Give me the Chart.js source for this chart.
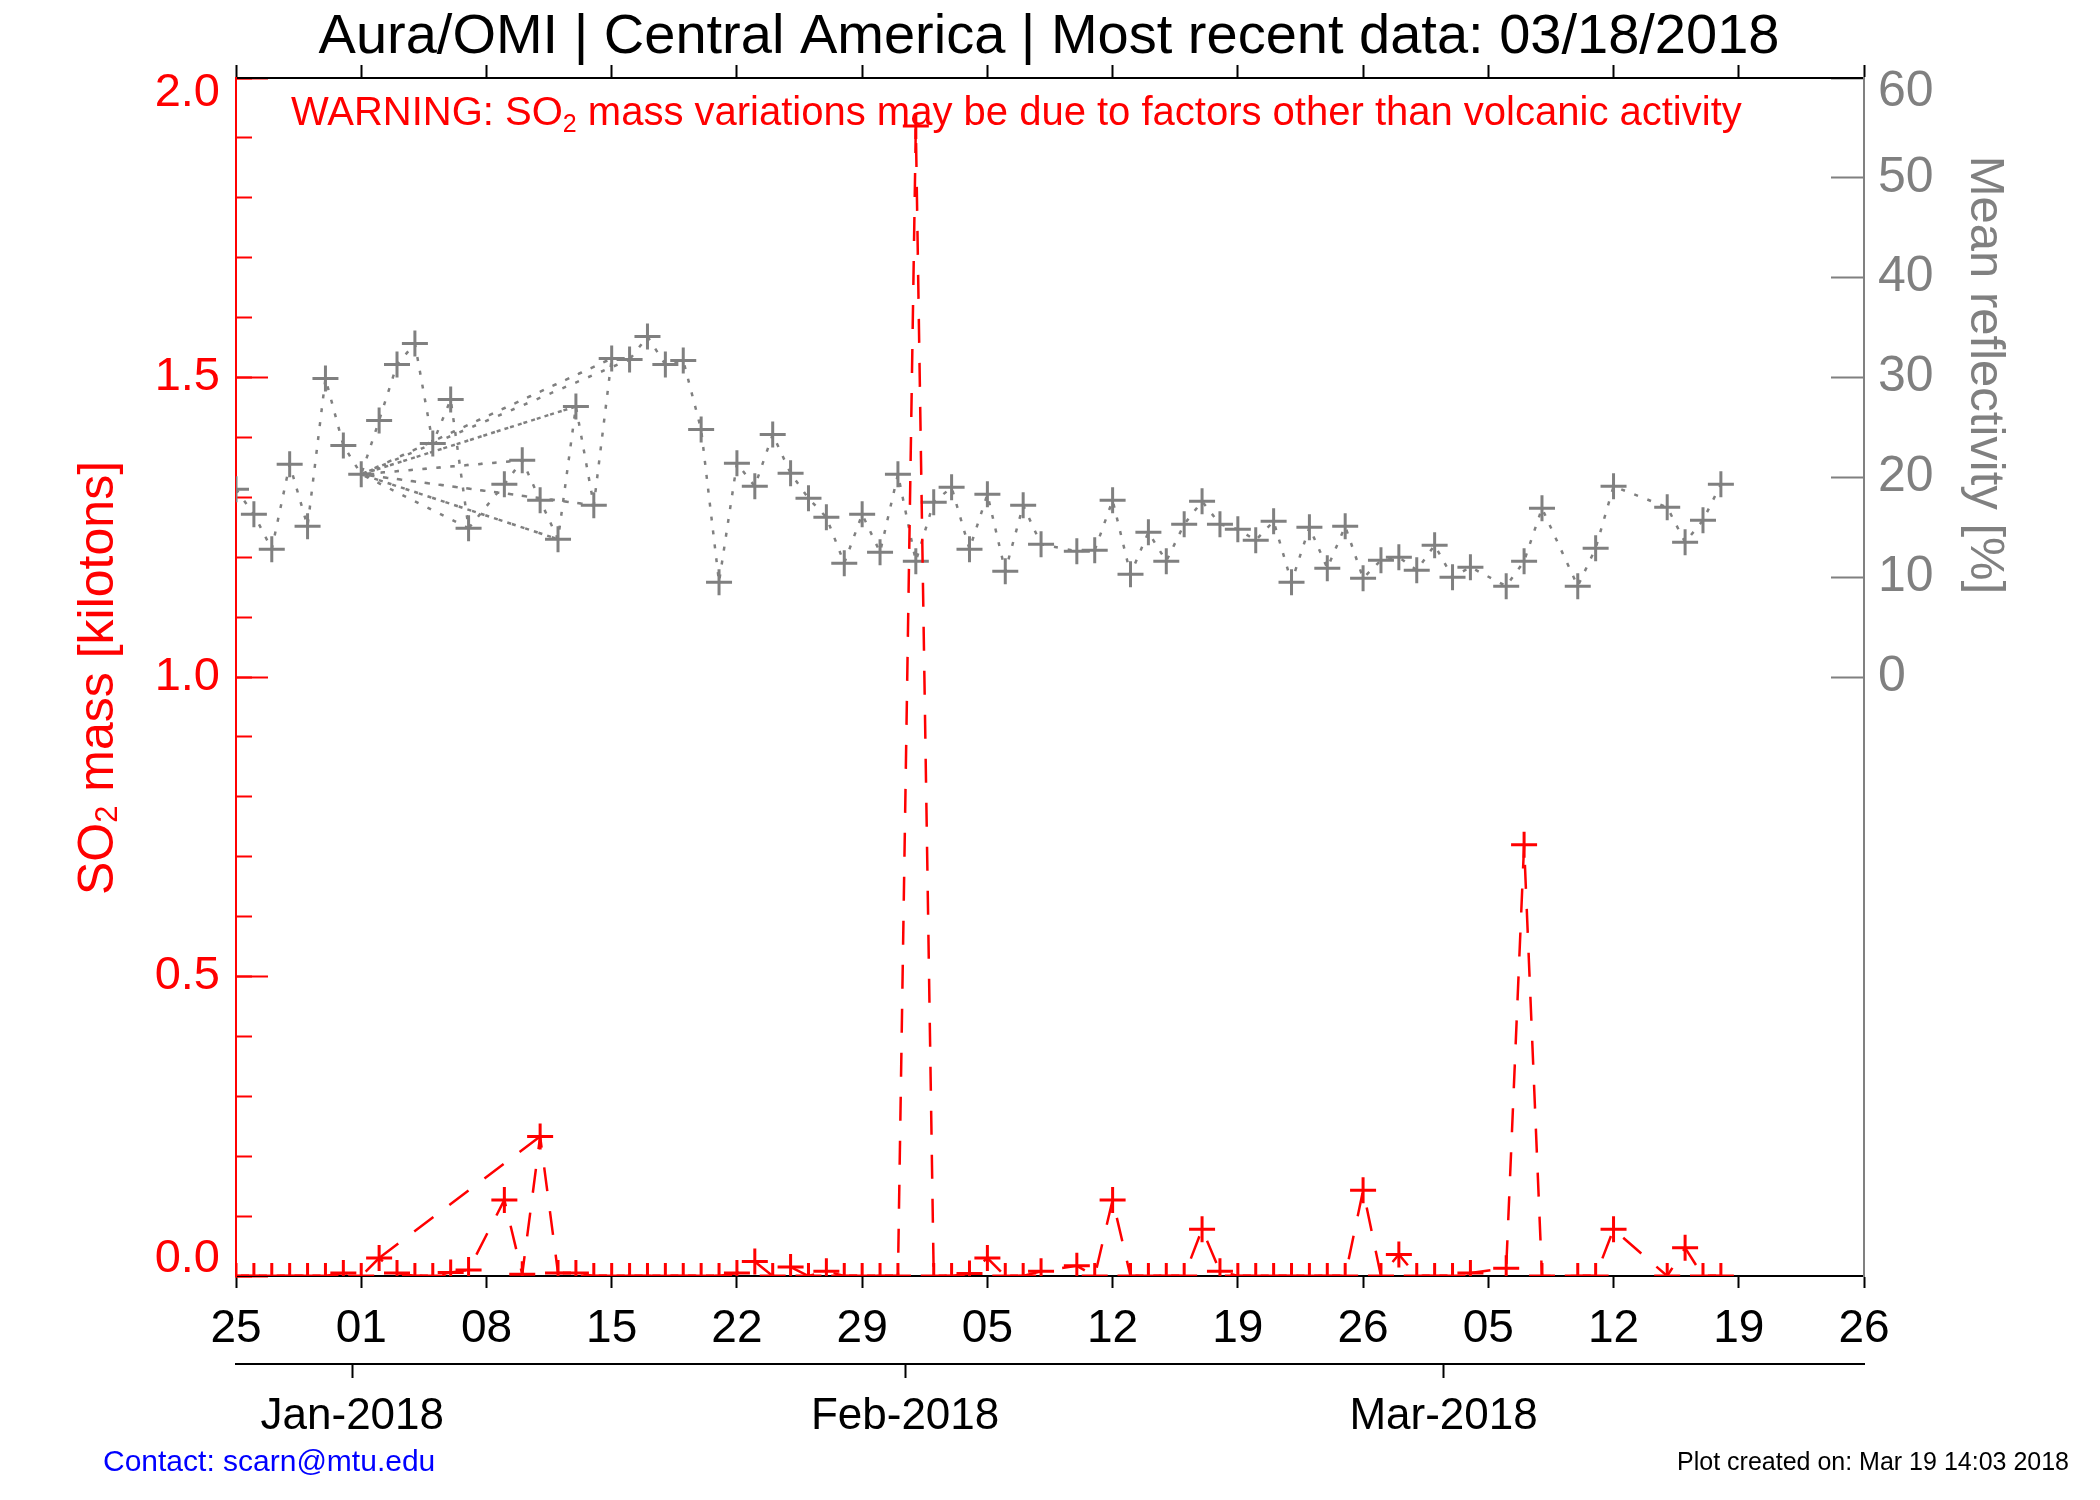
<!DOCTYPE html>
<html>
<head>
<meta charset="utf-8">
<script src="https://cdn.jsdelivr.net/npm/chart.js@4.4.1/dist/chart.umd.min.js"></script>
<style>
  html, body { margin: 0; padding: 0; background: #fff; }
  #wrap { width: 2100px; height: 1500px; }
</style>
</head>
<body>
<div id="wrap"><canvas id="chart" width="2100" height="1500"></canvas></div>
<script>
const FONT = "'Liberation Sans', Arial, Helvetica, sans-serif"
const START = Date.UTC(2017, 11, 25)   // day 0 of the x axis
const RED = "#ff0000"
const GREY = "#808080"

// SO2 mass [kilotons], days counted from 25 Dec 2017
const so2Days = [0, 1, 2, 3, 4, 5, 6, 7, 8, 9, 10, 11, 12, 13, 15, 16, 17, 18, 19, 20, 21, 22, 23, 24, 25, 26, 27,
  28, 29, 30, 31, 32, 33, 34, 35, 36, 37, 38, 39, 40, 41, 42, 43, 44, 45, 47, 48, 49, 50, 51, 52, 53, 54, 55,
  56, 57, 58, 59, 60, 61, 62, 63, 64, 65, 66, 67, 68, 69, 71, 72, 73, 75, 76, 77, 80, 81, 82, 83]
const so2Mass = [0, 0, 0, 0, 0, 0, 0.005, 0, 0.03, 0.005, 0, 0, 0.006, 0.01, 0.127, 0.003, 0.233, 0.005, 0.005, 0, 0, 0, 0, 0, 0, 0, 0,
  0.005, 0.024, 0, 0.015, 0, 0.008, 0, 0, 0, 0, 1.92, 0, 0, 0.004, 0.03, 0, 0, 0.008, 0.017, 0, 0.127, 0, 0, 0, 0, 0.078, 0.008,
  0, 0, 0, 0, 0, 0, 0, 0.143, 0, 0.036, 0, 0, 0, 0.005, 0.013, 0.72, 0, 0, 0, 0.078, 0, 0.047, 0, 0]
// a record stored out of date order: the line jumps back to it
const so2Stray = [8, 17]

// mean reflectivity [%]
const reflDays = so2Days
const reflPct = [18.8, 16.3, 12.8, 21.3, 15.1, 29.9, 23.2, 20.3, 25.7, 31.3, 33.4, 23.4, 27.8, 14.9, 19.3, 21.7, 17.7, 13.8, 27.1, 17.2, 31.9, 31.8, 34.1, 31.3, 31.7, 24.8, 9.5,
  21.4, 19.1, 24.3, 20.4, 17.9, 16.0, 11.4, 16.3, 12.5, 20.3, 11.6, 17.5, 19.0, 12.8, 18.3, 10.6, 17.2, 13.3, 12.6, 12.7, 17.7, 10.3, 14.5, 11.6, 15.3, 17.6, 15.3,
  14.8, 13.7, 15.6, 9.5, 15.0, 10.9, 15.1, 9.9, 11.7, 12.0, 10.7, 13.2, 10.0, 11.0, 9.1, 11.6, 16.9, 9.1, 12.9, 19.1, 17.0, 13.5, 15.7, 19.3]
const reflStray = [13, 7, 16, 7, 18, 7, 19, 7, 20, 7, 21, 7, 22]

const reflTicks = [0, 10, 20, 30, 40, 50, 60]
const monthDays = [6.5, 37.4, 67.5]
const monthLabels = ["Jan-2018", "Feb-2018", "Mar-2018"]

const pts = (days, vals) => days.map((d, i) => ({ x: d, y: vals[i] }))
const strayPts = (order, days, vals) => order.map(d => ({ x: d, y: vals[days.indexOf(d)] }))

const dayLabel = v => String(new Date(START + v * 864e5).getUTCDate()).padStart(2, "0")

// IDL nudges the end labels of a vertical axis inwards; an empty extra line does the same here
const nudged = (label, v, lo, hi) => v === hi ? ["", label] : v === lo ? [label, ""] : label
const endFont = (size, lo, hi, hiShift, loShift) => c => {
  const v = c.tick && c.tick.value
  const shift = v === hi ? hiShift : v === lo ? loShift : 0
  return { family: FONT, size, lineHeight: shift ? (shift * 2) + "px" : 1.2 }
}

// draws text where some parts are subscripts (the 2 in SO2)
function subText(ctx, parts, size, x, y, align) {
  const small = Math.round(size * 0.62)
  const w = parts.reduce((s, p) => {
    ctx.font = (p.sub ? small : size) + "px " + FONT
    return s + ctx.measureText(p.t).width
  }, 0)
  let cx = align === "center" ? x - w / 2 : x
  parts.forEach(p => {
    ctx.font = (p.sub ? small : size) + "px " + FONT
    ctx.fillText(p.t, cx, p.sub ? y + size * 0.18 : y)
    cx += ctx.measureText(p.t).width
  })
}

const textPlugin = {
  id: "texts",
  afterDraw(chart) {
    const { ctx } = chart
    ctx.save()
    ctx.textBaseline = "alphabetic"
    ctx.textAlign = "left"

    ctx.fillStyle = "#000"
    ctx.font = "56px " + FONT
    ctx.textAlign = "center"
    ctx.fillText("Aura/OMI | Central America | Most recent data: 03/18/2018", 1049, 53)
    ctx.textAlign = "left"

    ctx.fillStyle = RED
    subText(ctx, [{ t: "WARNING: SO" }, { t: "2", sub: true }, { t: " mass variations may be due to factors other than volcanic activity" }], 40, 291, 125)

    ctx.save()
    ctx.translate(99, 678)
    ctx.rotate(-Math.PI / 2)
    ctx.textBaseline = "middle"
    subText(ctx, [{ t: "SO" }, { t: "2", sub: true }, { t: " mass [kilotons]" }], 50, 0, 0, "center")
    ctx.restore()

    ctx.save()
    ctx.translate(1985, 375)
    ctx.rotate(Math.PI / 2)
    ctx.fillStyle = GREY
    ctx.textBaseline = "middle"
    ctx.textAlign = "center"
    ctx.font = "49px " + FONT
    ctx.fillText("Mean reflectivity [%]", 0, 0)
    ctx.restore()

    ctx.textBaseline = "middle"
    ctx.fillStyle = "#0000ff"
    ctx.font = "30px " + FONT
    ctx.fillText("Contact: scarn@mtu.edu", 103, 1463)
    ctx.fillStyle = "#000"
    ctx.font = "25px " + FONT
    ctx.textAlign = "right"
    ctx.fillText("Plot created on: Mar 19 14:03 2018", 2069, 1463)
    ctx.restore()
  }
}

new Chart(document.getElementById("chart"), {
  type: "line",
  data: {
    datasets: [
      { data: pts(so2Days, so2Mass), yAxisID: "y", order: 0, clip: 0,
        borderColor: RED, borderWidth: 2.5, borderDash: [24, 20],
        pointStyle: "cross", pointRadius: 13, pointBorderWidth: 3, pointBorderColor: RED },
      { data: strayPts(so2Stray, so2Days, so2Mass), yAxisID: "y", order: 1, clip: 0,
        borderColor: RED, borderWidth: 2.5, borderDash: [24, 20], pointRadius: 0 },
      { data: pts(reflDays, reflPct), yAxisID: "y2", order: 2, clip: 0,
        borderColor: GREY, borderWidth: 2.5, borderDash: [4, 10],
        pointStyle: "cross", pointRadius: 13, pointBorderWidth: 3, pointBorderColor: GREY },
      { data: strayPts(reflStray, reflDays, reflPct), yAxisID: "y2", order: 3, clip: 0,
        borderColor: GREY, borderWidth: 2.5, borderDash: [4, 10], pointRadius: 0 }
    ]
  },
  options: {
    responsive: false, animation: false, devicePixelRatio: 1,
    layout: { padding: { top: 73, left: 0, right: 0, bottom: 0 } },
    plugins: { legend: { display: false }, tooltip: { enabled: false }, title: { display: false } },
    scales: {
      x: {
        type: "linear", position: "bottom", min: 0, max: 91, weight: 0,
        afterFit: s => { s.height = 88 },
        border: { color: "#000", width: 2 },
        grid: { drawOnChartArea: false, tickLength: 12, tickColor: "#000", tickWidth: 2 },
        ticks: { stepSize: 7, autoSkip: false, maxRotation: 0, padding: 14, color: "#000",
          font: { family: FONT, size: 46 }, callback: dayLabel }
      },
      xMonth: {
        type: "linear", position: "bottom", min: 0, max: 91, weight: 1,
        afterFit: s => { s.height = 136 },
        afterBuildTicks: s => { s.ticks = monthDays.map(v => ({ value: v })) },
        border: { color: "#000", width: 2 },
        grid: { drawOnChartArea: false, tickLength: 14, tickColor: "#000", tickWidth: 2 },
        ticks: { autoSkip: false, maxRotation: 0, padding: 12, color: "#000",
          font: { family: FONT, size: 44 }, callback: (v, i) => monthLabels[i] }
      },
      xTop: {
        type: "linear", position: "top", min: 0, max: 91,
        afterFit: s => { s.height = 0 },
        border: { color: "#000", width: 2 },
        grid: { drawOnChartArea: false, tickLength: 13, tickColor: "#000", tickWidth: 2 },
        ticks: { stepSize: 7, display: false }
      },
      y: {
        position: "left", min: 0, max: 2, weight: 1,
        afterFit: s => { s.width = 236 },
        border: { color: RED, width: 2 },
        grid: { drawOnChartArea: false, tickLength: -32, tickColor: RED, tickWidth: 2 },
        ticks: { stepSize: 0.5, padding: 48, color: RED, font: endFont(47, 0, 2, 15, 17),
          callback: v => nudged(v.toFixed(1), v, 0, 2) }
      },
      yMinor: {
        position: "left", min: 0, max: 2, weight: 0,
        afterFit: s => { s.width = 0 },
        border: { display: false },
        grid: { drawOnChartArea: false, tickLength: -16, tickColor: RED, tickWidth: 2 },
        ticks: { stepSize: 0.1, display: false }
      },
      y2: {
        position: "right", min: -60, max: 60,
        afterFit: s => { s.width = 236 },
        afterBuildTicks: s => { s.ticks = reflTicks.map(v => ({ value: v })) },
        border: { color: GREY, width: 2 },
        grid: { drawOnChartArea: false, tickLength: -33, tickColor: GREY, tickWidth: 2 },
        ticks: { padding: 47, color: GREY, font: endFont(50, null, 60, 14, 0),
          callback: v => nudged(String(v), v, null, 60) }
      }
    }
  },
  plugins: [textPlugin]
})
</script>
</body>
</html>
